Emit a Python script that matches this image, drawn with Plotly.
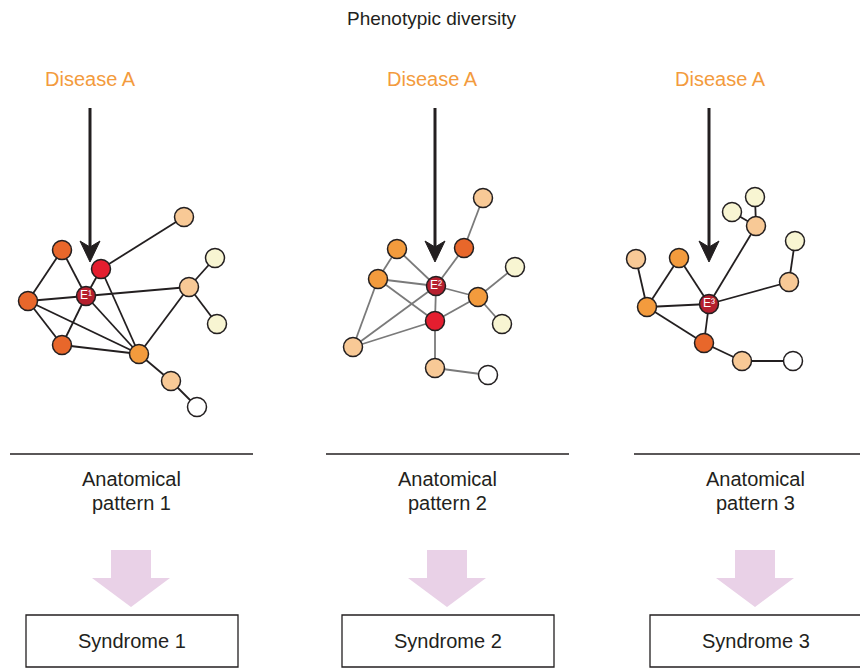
import plotly.graph_objects as go

# ---------------- data ----------------
title_text = "Phenotypic diversity"
disease_labels = ["Disease A", "Disease A", "Disease A"]
pattern_line1 = ["Anatomical", "Anatomical", "Anatomical"]
pattern_line2 = ["pattern 1", "pattern 2", "pattern 3"]
syndrome_labels = ["Syndrome 1", "Syndrome 2", "Syndrome 3"]

# network 1 nodes
n1_names = ["A", "B", "C", "E", "R", "D", "P1", "P2", "Y1", "Y2", "P3", "W"]
n1_x = [62, 28, 62, 86, 101, 139, 184, 189, 215, 217, 171, 197]
n1_y = [250, 301, 345, 296, 269, 354, 217, 287, 258, 324, 381, 407]
n1_kind = ["dorange", "dorange", "dorange", "ered", "red", "orange", "peach", "peach", "yellow", "yellow", "peach", "white"]
n1_edges = [("A", "B"), ("A", "E"), ("B", "E"), ("B", "C"), ("B", "D"), ("C", "E"), ("C", "D"),
            ("E", "R"), ("E", "P2"), ("E", "D"), ("R", "P1"), ("R", "D"), ("D", "P2"), ("D", "P3"),
            ("P3", "W"), ("P2", "Y1"), ("P2", "Y2")]

# network 2 nodes
n2_names = ["O1", "O2", "Pt", "O3", "E", "O4", "Y1", "Y2", "R", "Pk", "Pb", "W"]
n2_x = [397, 464, 483, 378, 436, 478, 515, 502, 435, 353, 435, 488]
n2_y = [249, 248, 198, 279, 286, 297, 267, 324, 321, 347, 368, 375]
n2_kind = ["orange", "dorange", "peach", "orange", "ered", "orange", "yellow", "yellow", "red", "peach", "peach", "white"]
n2_edges = [("O1", "O3"), ("O1", "E"), ("O3", "E"), ("O3", "R"), ("O3", "Pk"), ("Pk", "E"), ("Pk", "R"),
            ("E", "O2"), ("O2", "Pt"), ("E", "O4"), ("E", "R"), ("R", "O4"), ("O4", "Y1"), ("O4", "Y2"),
            ("R", "Pb"), ("Pb", "W")]

# network 3 nodes
n3_names = ["Pk1", "O1", "O2", "E", "DO", "Pk2", "W", "Pk3", "Y1", "Y2", "Pk4", "Y3"]
n3_x = [636, 679, 647, 709, 704, 742, 793, 756, 732, 755, 789, 795]
n3_y = [259, 258, 307, 304, 343, 361, 361, 226, 212, 197, 282, 241]
n3_kind = ["peach", "orange", "orange", "ered", "dorange", "peach", "white", "peach", "yellow", "yellow", "peach", "yellow"]
n3_edges = [("Pk1", "O2"), ("O2", "O1"), ("O1", "E"), ("O2", "E"), ("O2", "DO"), ("E", "DO"),
            ("DO", "Pk2"), ("Pk2", "W"), ("E", "Pk3"), ("Pk3", "Y1"), ("Pk3", "Y2"), ("E", "Pk4"), ("Pk4", "Y3")]

e_labels = ["E\u00b9", "E\u00b2", "E\u00b3"]
edge_colors = ["#231F20", "#7A7A7A", "#231F20"]
column_x = [131, 447, 755]
arrow_x = [90, 435, 709]
disease_x = [90, 432, 720]
rule_x = [(10, 253), (326, 569), (634, 868)]
box_x = [(26, 238), (342, 554), (650, 862)]

kind_colors = {
    "ered": "#B51F2E", "red": "#E41E2F", "dorange": "#E8672B", "orange": "#F39B3D",
    "peach": "#F8C996", "yellow": "#F8F5D2", "white": "#FFFFFF",
}

FONT = "Liberation Sans, Arial, Helvetica, sans-serif"
INK = "#231F20"
OFF = 8  # browser body margin

fig = go.Figure()
shapes = []
annotations = []

networks = [(n1_names, n1_x, n1_y, n1_kind, n1_edges),
            (n2_names, n2_x, n2_y, n2_kind, n2_edges),
            (n3_names, n3_x, n3_y, n3_kind, n3_edges)]

for i, (names, xs, ys, kinds, edges) in enumerate(networks):
    pos = {n: (x, y) for n, x, y in zip(names, xs, ys)}
    ex, ey = [], []
    for a, b in edges:
        ex += [pos[a][0], pos[b][0], None]
        ey += [pos[a][1], pos[b][1], None]
    fig.add_trace(go.Scatter(x=ex, y=ey, mode="lines",
                             line=dict(color=edge_colors[i], width=1.8),
                             hoverinfo="skip", showlegend=False))
    fig.add_trace(go.Scatter(x=xs, y=ys, mode="markers",
                             marker=dict(size=19, color=[kind_colors[k] for k in kinds],
                                         line=dict(color=INK, width=1.5)),
                             hoverinfo="skip", showlegend=False))
    e_idx = kinds.index("ered")
    fig.add_trace(go.Scatter(x=[xs[e_idx]], y=[ys[e_idx]], mode="text", text=[e_labels[i]],
                             textposition="middle center",
                             textfont=dict(color="white", size=12, family=FONT),
                             hoverinfo="skip", showlegend=False))

    # black disease arrow
    ax = arrow_x[i]
    shapes.append(dict(type="line", x0=ax, x1=ax, y0=108, y1=250,
                       line=dict(color=INK, width=3), layer="above"))
    shapes.append(dict(type="path",
                       path=f"M {ax} 262 L {ax-10} 241 L {ax} 247 L {ax+10} 241 Z",
                       fillcolor=INK, line=dict(color=INK, width=1), layer="above"))

    # rules
    shapes.append(dict(type="line", x0=rule_x[i][0], x1=rule_x[i][1], y0=454, y1=454,
                       line=dict(color=INK, width=1.5)))

    # pink block arrows
    cx = column_x[i]
    shapes.append(dict(type="path",
                       path=(f"M {cx-20} 550 L {cx+20} 550 L {cx+20} 578 L {cx+39} 578 "
                             f"L {cx} 607 L {cx-39} 578 L {cx-20} 578 Z"),
                       fillcolor="#E9D1E7", line=dict(width=0)))

    # syndrome boxes
    shapes.append(dict(type="rect", x0=box_x[i][0], x1=box_x[i][1], y0=615, y1=667,
                       line=dict(color=INK, width=1.3), fillcolor="white"))

    annotations.append(dict(x=disease_x[i], y=79, text=disease_labels[i], showarrow=False,
                            font=dict(color="#F39B3D", size=20, family=FONT)))
    annotations.append(dict(x=cx, y=479, text=pattern_line1[i], showarrow=False,
                            font=dict(color=INK, size=20, family=FONT)))
    annotations.append(dict(x=cx, y=503, text=pattern_line2[i], showarrow=False,
                            font=dict(color=INK, size=20, family=FONT)))
    annotations.append(dict(x=(box_x[i][0] + box_x[i][1]) / 2, y=641, text=syndrome_labels[i],
                            showarrow=False, font=dict(color=INK, size=20, family=FONT)))

annotations.append(dict(x=431, y=18, text=title_text, showarrow=False,
                        font=dict(color=INK, size=19, family=FONT)))

fig.update_layout(
    width=868 - OFF, height=668 - OFF, margin=dict(l=0, r=0, t=0, b=0),
    paper_bgcolor="white", plot_bgcolor="white",
    xaxis=dict(range=[OFF, 868], visible=False, fixedrange=True),
    yaxis=dict(range=[668, OFF], visible=False, fixedrange=True),
    shapes=shapes, annotations=annotations, showlegend=False,
)

fig.write_html("out.html")
